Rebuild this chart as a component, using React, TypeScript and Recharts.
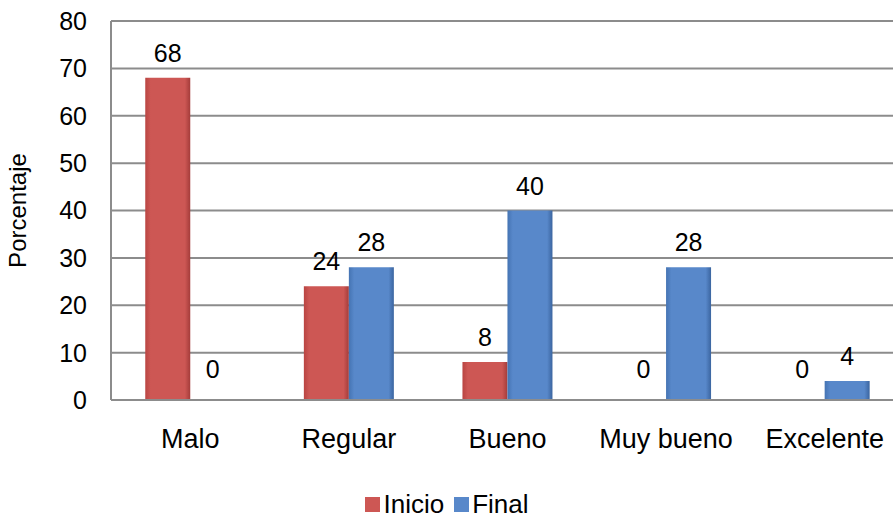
import { BarChart, Bar, XAxis, YAxis, CartesianGrid, Legend, LabelList } from "recharts";

const categories = ["Malo", "Regular", "Bueno", "Muy bueno", "Excelente"];
const inicio = [68, 24, 8, 0, 0];
const final = [0, 28, 40, 28, 4];
const yTicks = [0, 10, 20, 30, 40, 50, 60, 70, 80];

const data = categories.map((name, i) => ({ name, inicio: inicio[i], final: final[i] }));

const font = "'Liberation Sans', Arial, sans-serif";

// zero bars get a hairline so their "0" label still shows
const keepZero = (v: any) => (v === 0 ? 0.01 : 0);

const ValueLabel = (props: any) => {
  const { x, y, width, value } = props;
  const lift = value === 0 ? 22 : 16;
  return (
    <text x={Number(x) + Number(width) / 2} y={Number(y) - lift} textAnchor="middle" fill="#000" fontSize={25} fontFamily={font}>
      {value}
    </text>
  );
};

const AxisTitle = (props: any) => {
  const { viewBox } = props;
  const cx = 26;
  const cy = viewBox.y + viewBox.height / 2;
  return (
    <text x={cx} y={cy} transform={`rotate(-90 ${cx} ${cy})`} textAnchor="middle" fill="#000" fontSize={24} fontFamily={font}>
      Porcentaje
    </text>
  );
};

const legendItems = [
  { name: "Inicio", color: "#cd5754" },
  { name: "Final", color: "#5888ca" },
];

const LegendBox = () => (
  <div
    style={{
      display: "flex",
      justifyContent: "center",
      alignItems: "center",
      height: 28,
      marginTop: 4,
      lineHeight: "28px",
      fontFamily: font,
      fontSize: 26,
      color: "#000",
    }}
  >
    {legendItems.map((it) => (
      <span key={it.name} style={{ display: "inline-flex", alignItems: "center", marginRight: 10 }}>
        <span style={{ display: "inline-block", width: 15, height: 15, background: it.color, marginRight: 3 }} />
        {it.name}
      </span>
    ))}
  </div>
);

export default function App() {
  return (
    <div style={{ position: "absolute", left: 0, top: 0, width: 893, height: 520, overflow: "hidden", background: "#fff" }}>
      <BarChart
        width={910}
        height={520}
        data={data}
        margin={{ top: 21, right: 6, left: 0, bottom: 0 }}
        barCategoryGap="21.6%"
        barGap={0}
        style={{ fontFamily: font }}
      >
        <defs>
          <linearGradient id="gRed" x1="0" y1="0" x2="1" y2="0">
            <stop offset="0%" stopColor="#b94542" />
            <stop offset="12%" stopColor="#cd5754" />
            <stop offset="88%" stopColor="#cd5754" />
            <stop offset="100%" stopColor="#a43c3a" />
          </linearGradient>
          <linearGradient id="gBlue" x1="0" y1="0" x2="1" y2="0">
            <stop offset="0%" stopColor="#4574b3" />
            <stop offset="12%" stopColor="#5888ca" />
            <stop offset="88%" stopColor="#5888ca" />
            <stop offset="100%" stopColor="#3b65a0" />
          </linearGradient>
        </defs>
        <CartesianGrid vertical={false} stroke="#8c8c8c" strokeWidth={2} />
        <XAxis
          dataKey="name"
          height={86}
          tickLine={false}
          tickSize={0}
          tickMargin={29}
          axisLine={{ stroke: "#8c8c8c", strokeWidth: 2 }}
          tick={{ fill: "#000", fontSize: 27, fontFamily: font }}
        />
        <YAxis
          domain={[0, 80]}
          ticks={yTicks}
          width={111}
          tickLine={false}
          tickSize={0}
          tickMargin={24}
          axisLine={{ stroke: "#8c8c8c", strokeWidth: 2 }}
          tick={{ fill: "#000", fontSize: 25, fontFamily: font }}
          label={<AxisTitle />}
        />
        <Legend verticalAlign="bottom" height={34} content={<LegendBox />} />
        <Bar dataKey="inicio" name="Inicio" fill="url(#gRed)" minPointSize={keepZero} isAnimationActive={false}>
          <LabelList dataKey="inicio" content={<ValueLabel />} />
        </Bar>
        <Bar dataKey="final" name="Final" fill="url(#gBlue)" minPointSize={keepZero} isAnimationActive={false}>
          <LabelList dataKey="final" content={<ValueLabel />} />
        </Bar>
      </BarChart>
    </div>
  );
}
